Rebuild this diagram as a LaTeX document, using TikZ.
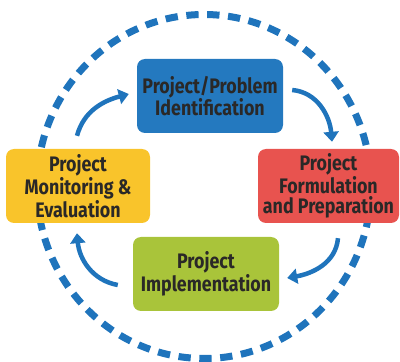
\documentclass[tikz,border=0pt]{standalone}
\usepackage{fontspec}
\setmainfont{Fira Sans}[FakeStretch=0.85]
\usepackage{tikz}
\usetikzlibrary{arrows.meta}

\definecolor{cycblue}{HTML}{1F74BC}
\definecolor{boxblue}{HTML}{2479BF}
\definecolor{boxred}{HTML}{E8534F}
\definecolor{boxyellow}{HTML}{F9C42B}
\definecolor{boxgreen}{HTML}{A9C43A}
\definecolor{textdark}{HTML}{2A2827}

\tikzset{
    stagebox/.style={rounded corners=8pt, minimum width=146pt, minimum height=74pt,
        align=center, text=textdark, inner xsep=2pt, font=\fontsize{21}{20}\selectfont\bfseries},
    cycarrow/.style={line width=4.5pt, draw=cycblue, -{Triangle[width=15pt,length=10pt]}}
}

\begin{document}
\begin{tikzpicture}[x=1pt, y=1pt]
    \useasboundingbox (0,0) rectangle (400,362);

    \coordinate (O) at (204, 175.5);

    \draw[cycblue, line width=7pt, dash pattern=on 12.3pt off 8.6pt] (O) ellipse [x radius=167, y radius=172];

    \node[stagebox, fill=boxblue] (ident) at (210, 266) {Project/Problem\\Identification};
    \node[stagebox, fill=boxred, minimum width=141pt] (form) at (328.5, 176) {Project\\Formulation\\and Preparation};
    \node[stagebox, fill=boxgreen] (impl) at (206, 88) {Project\\Implementation};
    \node[stagebox, fill=boxyellow, minimum width=144pt] (monit) at (78, 176) {Project\\Monitoring \&\\Evaluation};

    \draw[cycarrow] ([shift={(-1,13)}]monit.north) to[out=75, in=195] ([shift={(-8,2)}]ident.west);
    \draw[cycarrow] ([shift={(9,6)}]ident.east) to[out=-5, in=95] ([shift={(3.5,7)}]form.north);
    \draw[cycarrow] ([shift={(9.5,-15)}]form.south) to[out=-95, in=10] ([shift={(8,-4)}]impl.east);
    \draw[cycarrow] ([shift={(-15,-11)}]impl.west) to[out=170, in=-85] ([shift={(-1,-10)}]monit.south);
\end{tikzpicture}
\end{document}
